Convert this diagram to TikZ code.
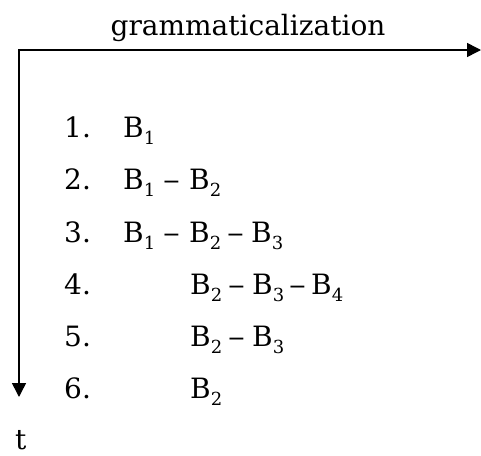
\documentclass[tikz,border=0pt]{standalone}
\usepackage{fontspec}
\setmainfont{DejaVu Serif}
\usetikzlibrary{arrows.meta}
\newcommand{\Bs}[1]{B\raisebox{-0.25em}{\fontsize{18}{18}\selectfont #1}}
\newcommand{\dsh}{\scalebox{1.2}[1]{–}}
\begin{document}
\begin{tikzpicture}[x=1pt,y=-1pt,
  txt/.style={inner sep=0pt, anchor=base west, font=\fontsize{28}{28}\selectfont},
  axis/.style={line width=1.5pt, {Triangle[length=14pt,width=14pt]}-{Triangle[length=14pt,width=14pt]}}]
\useasboundingbox (0,0) rectangle (481,455);
\coordinate (corner) at (19,50);
\coordinate (hend) at (481,50);
\coordinate (vend) at (19,397);
\draw[axis] (vend) -- (corner) -- (hend);
\node[txt, anchor=base] (title) at (248,35) {grammaticalization};
% numbers
\node[txt] (n1) at (64,137) {1.};
\node[txt] (n2) at (64,189.5) {2.};
\node[txt] (n3) at (64,242) {3.};
\node[txt] (n4) at (64,294) {4.};
\node[txt] (n5) at (64,346) {5.};
\node[txt] (n6) at (64,398) {6.};
% line 1
\node[txt] (a1) at (123,137) {\Bs{1}};
% line 2
\node[txt] (b1) at (123,189.5) {\Bs{1}};
\node[txt] (bd1) at (163,189.5) {\dsh};
\node[txt] (b2) at (189,189.5) {\Bs{2}};
% line 3
\node[txt] (c1) at (123,242) {\Bs{1}};
\node[txt] (cd1) at (163,242) {\dsh};
\node[txt] (c2) at (189,242) {\Bs{2}};
\node[txt] (cd2) at (227,242) {\dsh};
\node[txt] (c3) at (251,242) {\Bs{3}};
% line 4
\node[txt] (d2) at (190,294) {\Bs{2}};
\node[txt] (dd1) at (228,294) {\dsh};
\node[txt] (d3) at (252,294) {\Bs{3}};
\node[txt] (dd2) at (289,294) {\dsh};
\node[txt] (d4) at (311,294) {\Bs{4}};
% line 5
\node[txt] (e2) at (190,346) {\Bs{2}};
\node[txt] (ed1) at (228,346) {\dsh};
\node[txt] (e3) at (252,346) {\Bs{3}};
% line 6
\node[txt] (f2) at (190,398) {\Bs{2}};
\node[txt] (t) at (15,449) {t};
\end{tikzpicture}
\end{document}
